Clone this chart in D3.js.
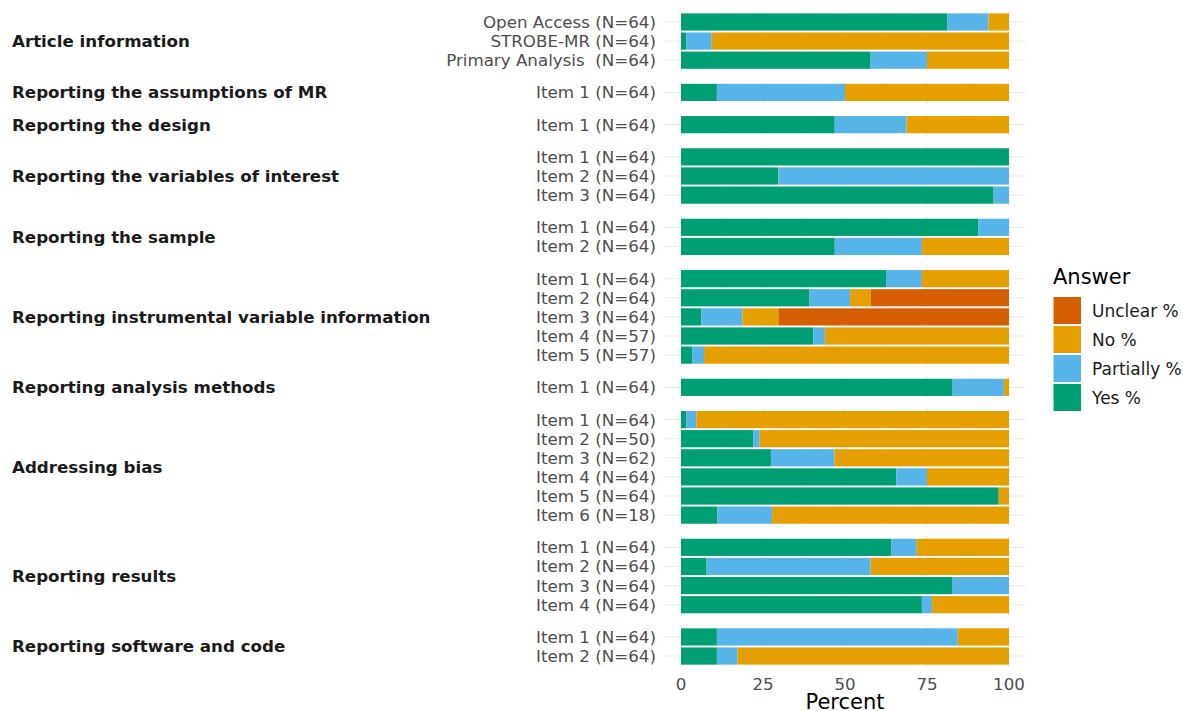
<!DOCTYPE html>
<html>
<head>
<meta charset="utf-8">
<script src="https://cdn.jsdelivr.net/npm/d3@7"></script>
<style>
  html, body { margin: 0; padding: 0; background: #fff; }
  svg { display: block; font-family: "DejaVu Sans", sans-serif; }
</style>
</head>
<body>
<svg id="chart" width="1183" height="711"></svg>
<script>
// ---------------- data ----------------
const groups = [
  "Article information",
  "Reporting the assumptions of MR",
  "Reporting the design",
  "Reporting the variables of interest",
  "Reporting the sample",
  "Reporting instrumental variable information",
  "Reporting analysis methods",
  "Addressing bias",
  "Reporting results",
  "Reporting software and code"
];
const itemGroup = [
  0, 0, 0,
  1,
  2,
  3, 3, 3,
  4, 4,
  5, 5, 5, 5, 5,
  6,
  7, 7, 7, 7, 7, 7,
  8, 8, 8, 8,
  9, 9
];
const itemLabels = [
  "Open Access (N=64)", "STROBE-MR (N=64)", "Primary Analysis  (N=64)",
  "Item 1 (N=64)",
  "Item 1 (N=64)",
  "Item 1 (N=64)", "Item 2 (N=64)", "Item 3 (N=64)",
  "Item 1 (N=64)", "Item 2 (N=64)",
  "Item 1 (N=64)", "Item 2 (N=64)", "Item 3 (N=64)", "Item 4 (N=57)", "Item 5 (N=57)",
  "Item 1 (N=64)",
  "Item 1 (N=64)", "Item 2 (N=50)", "Item 3 (N=62)", "Item 4 (N=64)", "Item 5 (N=64)", "Item 6 (N=18)",
  "Item 1 (N=64)", "Item 2 (N=64)", "Item 3 (N=64)", "Item 4 (N=64)",
  "Item 1 (N=64)", "Item 2 (N=64)"
];
const yesPct = [
  81.25, 1.56, 57.81,
  10.94,
  46.88,
  100, 29.69, 95.31,
  90.62, 46.88,
  62.5, 39.06, 6.25, 40.35, 3.51,
  82.81,
  1.56, 22, 27.42, 65.62, 96.87, 11.11,
  64.06, 7.81, 82.81, 73.44,
  10.94, 10.94
];
const partiallyPct = [
  12.5, 7.81, 17.19,
  39.06,
  21.88,
  0, 70.31, 4.69,
  9.38, 26.56,
  10.94, 12.5, 12.5, 3.51, 3.51,
  15.63,
  3.13, 2, 19.35, 9.38, 0, 16.67,
  7.81, 50, 17.19, 3.12,
  73.44, 6.25
];
const noPct = [
  6.25, 90.63, 25,
  50,
  31.24,
  0, 0, 0,
  0, 26.56,
  26.56, 6.25, 10.94, 56.14, 92.98,
  1.56,
  95.31, 76, 53.23, 25, 3.13, 72.22,
  28.13, 42.19, 0, 23.44,
  15.62, 82.81
];
const unclearPct = [
  0, 0, 0,
  0,
  0,
  0, 0, 0,
  0, 0,
  0, 42.19, 70.31, 0, 0,
  0,
  0, 0, 0, 0, 0, 0,
  0, 0, 0, 0,
  0, 0
];
const answerKeys = ["Yes %", "Partially %", "No %", "Unclear %"];
const answerColors = ["#009E73", "#56B4E9", "#E69F00", "#D55E00"];
const xTicks = [0, 25, 50, 75, 100];
const xMinor = [12.5, 37.5, 62.5, 87.5];

// ---------------- layout ----------------
const svg = d3.select("#chart");
const panelLeft = 664.6, panelRight = 1025.4;
const plotTop = 10.5, plotBottom = 667.5, panelGap = 9.3;
const grid = "#EBEBEB";
const fsAxis = 16.7;

const x = d3.scaleLinear().domain([-5, 105]).range([panelLeft, panelRight]);

const rows = itemLabels.map((lab, i) => ({
  i, label: lab, group: itemGroup[i],
  vals: [yesPct[i], partiallyPct[i], noPct[i], unclearPct[i]]
}));

const stack = d3.stack().keys([0, 1, 2, 3]).value((d, k) => d.vals[k]);
const series = stack(rows);

// panel sizes
const counts = groups.map((g, gi) => rows.filter(r => r.group === gi).length);
const units = d3.sum(counts) + 0.2 * groups.length;
const unit = (plotBottom - plotTop - panelGap * (groups.length - 1)) / units;

let cursor = plotTop;
const panels = groups.map((g, gi) => {
  const h = (counts[gi] + 0.2) * unit;
  const items = rows.filter(r => r.group === gi).map(r => r.i);
  const y = d3.scaleBand().domain(items).range([cursor, cursor + h])
    .paddingInner(0.1).paddingOuter(0.15);
  const p = { name: g, top: cursor, bottom: cursor + h, y, items };
  cursor += h + panelGap;
  return p;
});
const yOf = i => panels[itemGroup[i]].y;

// ---------------- grid ----------------
panels.forEach(p => {
  const gg = svg.append("g");
  gg.selectAll(".minor").data(xMinor).join("line")
    .attr("x1", d => x(d)).attr("x2", d => x(d))
    .attr("y1", p.top).attr("y2", p.bottom)
    .attr("stroke", grid).attr("stroke-width", 0.55);
  gg.selectAll(".major").data(xTicks).join("line")
    .attr("x1", d => x(d)).attr("x2", d => x(d))
    .attr("y1", p.top).attr("y2", p.bottom)
    .attr("stroke", grid).attr("stroke-width", 1.1);
  gg.selectAll(".hy").data(p.items).join("line")
    .attr("x1", panelLeft).attr("x2", panelRight)
    .attr("y1", d => p.y(d) + p.y.bandwidth() / 2).attr("y2", d => p.y(d) + p.y.bandwidth() / 2)
    .attr("stroke", grid).attr("stroke-width", 1.1);
});

// ---------------- bars ----------------
svg.append("g").selectAll("g").data(series).join("g")
  .attr("fill", (s, k) => answerColors[k])
  .selectAll("rect").data(s => s.filter(d => d[1] - d[0] > 0)).join("rect")
  .attr("x", d => x(d[0]))
  .attr("width", d => x(d[1]) - x(d[0]))
  .attr("y", d => yOf(d.data.i)(d.data.i))
  .attr("height", d => yOf(d.data.i).bandwidth());

// ---------------- y labels ----------------
svg.append("g").selectAll("text").data(rows).join("text")
  .attr("x", 656)
  .attr("y", r => yOf(r.i)(r.i) + yOf(r.i).bandwidth() / 2)
  .attr("dy", "0.36em")
  .attr("text-anchor", "end")
  .attr("font-size", fsAxis)
  .attr("fill", "#4D4D4D")
  .style("white-space", "pre")
  .text(r => r.label);

// strip labels
svg.append("g").selectAll("text").data(panels).join("text")
  .attr("x", 12)
  .attr("y", p => (p.top + p.bottom) / 2)
  .attr("dy", "0.36em")
  .attr("font-size", 16.7)
  .attr("font-weight", "bold")
  .attr("fill", "#1A1A1A")
  .text(p => p.name);

// ---------------- x axis ----------------
svg.append("g").selectAll("text").data(xTicks).join("text")
  .attr("x", d => x(d))
  .attr("y", 690)
  .attr("text-anchor", "middle")
  .attr("font-size", fsAxis)
  .attr("fill", "#4D4D4D")
  .text(d => d);

svg.append("text")
  .attr("x", (panelLeft + panelRight) / 2)
  .attr("y", 709)
  .attr("text-anchor", "middle")
  .attr("font-size", 21)
  .attr("fill", "#000")
  .text("Percent");

// ---------------- legend ----------------
const legend = svg.append("g");
legend.append("text").attr("x", 1053).attr("y", 284)
  .attr("font-size", 21).attr("fill", "#000").text("Answer");
const legendOrder = [3, 2, 1, 0];
const keyY = d3.scaleBand().domain(legendOrder).range([296, 412]);
legend.selectAll("rect").data(legendOrder).join("rect")
  .attr("x", 1053.5).attr("y", k => keyY(k) + 1)
  .attr("width", 27.5).attr("height", keyY.bandwidth() - 2)
  .attr("fill", k => answerColors[k]);
legend.selectAll(".lab").data(legendOrder).join("text")
  .attr("x", 1092).attr("y", k => keyY(k) + keyY.bandwidth() / 2)
  .attr("dy", "0.36em")
  .attr("font-size", 17).attr("fill", "#1A1A1A")
  .text(k => answerKeys[k]);
</script>
</body>
</html>
